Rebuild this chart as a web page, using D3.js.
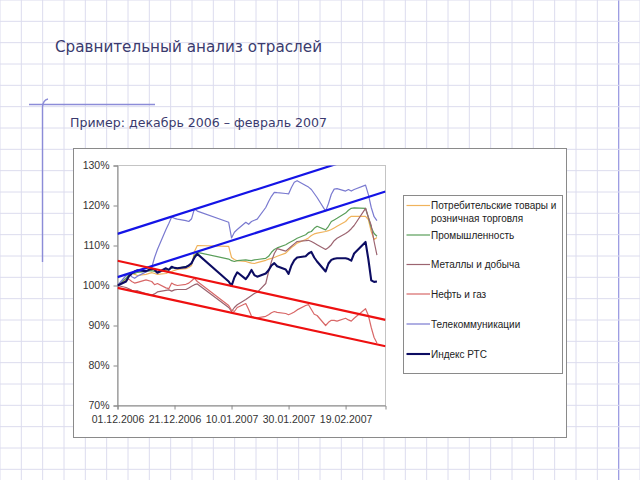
<!DOCTYPE html>
<html>
<head>
<meta charset="utf-8">
<script src="https://cdn.jsdelivr.net/npm/d3@7"></script>
<style>
  html, body { margin: 0; padding: 0; background: #ffffff; }
  svg { display: block; }
</style>
</head>
<body>
<svg id="chart" width="640" height="480"></svg>
<script>
// ---------------- DATA ----------------
const titleText = "Сравнительный анализ отраслей";
const subtitleText = "Пример: декабрь 2006 – февраль 2007";

const dates = ["2006-12-01","2006-12-04","2006-12-05","2006-12-06","2006-12-07","2006-12-08","2006-12-11","2006-12-13","2006-12-14","2006-12-15",
  "2006-12-18","2006-12-19","2006-12-20","2006-12-21","2006-12-22","2006-12-25","2006-12-26","2006-12-27","2006-12-28","2006-12-29",
  "2007-01-09","2007-01-10","2007-01-11","2007-01-12","2007-01-15","2007-01-16","2007-01-17","2007-01-18","2007-01-19",
  "2007-01-22","2007-01-23","2007-01-24","2007-01-25","2007-01-26","2007-01-29","2007-01-30","2007-01-31",
  "2007-02-01","2007-02-02","2007-02-05","2007-02-06","2007-02-07","2007-02-08","2007-02-09","2007-02-12","2007-02-13","2007-02-14","2007-02-15","2007-02-16",
  "2007-02-19","2007-02-20","2007-02-21","2007-02-22","2007-02-26","2007-02-27","2007-02-28","2007-03-01","2007-03-02"];

const consumer = [100.0,101.5,102.5,103.0,102.8,102.5,102.8,103.2,103.0,102.8,103.0,103.3,103.5,103.8,104.0,104.2,104.5,105.0,108.5,110.0,
  109.8,107.0,106.5,106.2,106.0,105.8,105.6,105.5,105.7,106.3,106.6,106.8,107.0,107.3,108.1,108.8,109.5,
  110.0,110.6,111.5,111.9,112.5,112.9,113.1,113.5,113.7,114.0,114.4,114.8,116.0,116.8,117.3,117.3,117.3,116.5,113.5,
  111.5,112.0];

const industry = [100.0,101.8,102.8,103.2,103.0,103.3,103.5,103.7,103.5,103.3,103.8,104.0,104.3,104.5,104.3,104.8,105.0,105.5,107.5,108.3,
  106.6,106.2,106.0,106.2,106.4,106.3,106.2,106.4,106.5,106.8,107.3,108.3,109.0,109.4,110.2,110.6,111.0,
  111.4,111.8,112.7,113.3,113.5,114.3,114.8,113.9,114.8,116.0,116.4,116.8,118.1,118.8,119.3,119.4,119.3,117.0,114.5,
  113.0,112.3];

const metals = [100.0,99.5,99.2,98.8,98.6,98.7,97.9,97.6,97.9,98.4,98.8,98.9,98.6,98.9,99.0,99.0,99.4,99.8,100.2,100.4,
  94.5,93.5,94.5,95.2,96.5,97.0,97.5,98.0,98.3,100.5,103.5,106.0,108.0,109.2,108.6,109.2,109.8,
  110.4,111.0,111.2,111.3,111.0,110.6,110.2,109.0,109.5,110.2,111.2,111.8,113.0,113.5,114.2,115.0,119.3,117.0,115.0,
  111.0,107.6];

const oilGas = [100.0,101.2,101.6,101.0,100.6,100.8,101.4,101.0,100.2,100.5,99.4,99.2,100.6,100.2,100.0,100.3,100.6,101.2,101.8,101.0,
  95.0,93.8,93.5,94.5,95.5,94.0,92.3,92.0,91.9,92.3,92.7,93.2,93.5,93.3,93.0,92.7,93.0,
  93.4,93.9,95.0,95.2,94.0,92.8,92.5,90.0,90.8,91.3,91.3,91.1,91.8,91.4,91.1,91.8,94.2,92.5,89.5,
  87.0,85.6];

const telecom = [100.0,102.5,103.0,102.2,101.8,102.3,103.4,104.5,107.0,109.0,114.0,115.5,117.1,116.8,116.6,116.2,116.0,116.7,119.2,118.6,
  115.8,111.9,113.3,114.0,115.8,115.3,116.0,116.3,116.6,119.5,121.0,122.3,123.3,123.2,123.0,122.9,124.5,
  125.8,126.2,125.0,124.6,124.0,123.0,122.0,118.6,120.5,122.8,124.1,124.2,123.6,124.0,123.6,124.0,125.1,122.7,119.5,
  117.2,116.2];

const rtsIndex = [100.0,101.0,102.3,103.0,103.5,103.8,103.6,104.2,104.0,103.2,104.3,103.9,104.7,104.4,104.3,104.6,105.0,105.6,107.0,107.9,
  101.0,99.9,102.0,103.3,101.6,102.6,103.9,102.6,102.2,103.0,103.8,105.0,105.6,104.8,104.0,102.9,105.0,
  106.3,107.0,107.3,108.0,108.4,107.0,106.0,103.5,105.5,106.4,106.7,106.8,106.8,106.6,106.2,108.0,110.9,106.5,101.3,
  100.9,101.0];

const seriesNames = ["Потребительские товары и|розничная торговля","Промышленность","Металлы и добыча","Нефть и газ","Телекоммуникации","Индекс РТС"];
const seriesValues = [consumer, industry, metals, oilGas, telecom, rtsIndex];
const seriesColors = ["#f0b35c","#5a9e5a","#9c6470","#d86868","#7a7ad0","#0c0c62"];
const seriesWidths = [1.2,1.2,1.2,1.2,1.2,2.1];

// Trend channel lines (start and end of date axis)
const trendDates = ["2006-12-01","2007-03-05"];
const blueUpper = [112.9, 134.3];
const blueLower = [102.1, 123.5];
const redUpper = [106.2, 91.4];
const redLower = [99.4, 84.8];

const xTickDates = ["2006-12-01","2006-12-21","2007-01-10","2007-01-30","2007-02-19"];
const xTickLabels = ["01.12.2006","21.12.2006","10.01.2007","30.01.2007","19.02.2007"];
const yTicks = [70,80,90,100,110,120,130];
const yDomain = [70,130];
const xDomain = ["2006-12-01","2007-03-05"];

// ---------------- DRAW ----------------
const parse = d3.timeParse("%Y-%m-%d");
const svg = d3.select("#chart");
const W = 640, H = 480;

// notebook grid background
const step = 640/30;
const bg = svg.append("g");
bg.append("rect").attr("width", W).attr("height", H).attr("fill", "#ffffff");
for (let i = 0; i <= 30; i++) {
  bg.append("line").attr("x1", i*step).attr("x2", i*step).attr("y1", 0).attr("y2", H)
    .attr("stroke", i === 29 ? "#9c9ce2" : "#dcdcee").attr("stroke-width", i === 29 ? 1.3 : 1);
}
for (let j = 0; j <= 23; j++) {
  bg.append("line").attr("x1", 0).attr("x2", W).attr("y1", j*step).attr("y2", j*step)
    .attr("stroke", "#dcdcee").attr("stroke-width", 1);
}
// margin decoration
bg.append("path").attr("d", "M29,104.5 L155,104.5").attr("stroke", "#8c8cd8").attr("stroke-width", 1.4).attr("fill", "none");
bg.append("path").attr("d", "M48,99 Q43,100 42.5,107 L42.5,262").attr("stroke", "#8c8cd8").attr("stroke-width", 1.4).attr("fill", "none");

// titles
svg.append("text").attr("x", 55).attr("y", 52).text(titleText)
  .attr("font-family", "DejaVu Sans, sans-serif").attr("font-size", 16).attr("fill", "#3a3a6e")
  .attr("textLength", 267).attr("lengthAdjust", "spacingAndGlyphs");
svg.append("text").attr("x", 70).attr("y", 127).text(subtitleText)
  .attr("font-family", "DejaVu Sans, sans-serif").attr("font-size", 12.5).attr("fill", "#3a3a6e")
  .attr("textLength", 257).attr("lengthAdjust", "spacingAndGlyphs");

// chart box
svg.append("rect").attr("x", 73.5).attr("y", 148.5).attr("width", 493).attr("height", 289)
  .attr("fill", "#ffffff").attr("stroke", "#8a8a8a").attr("stroke-width", 1);

const plot = {left: 117.5, right: 385.5, top: 165.5, bottom: 405.5};
const x = d3.scaleTime().domain(xDomain.map(parse)).range([plot.left, plot.right]);
const y = d3.scaleLinear().domain(yDomain).range([plot.bottom, plot.top]);

// plot area border
svg.append("rect").attr("x", plot.left).attr("y", plot.top)
  .attr("width", plot.right - plot.left).attr("height", plot.bottom - plot.top)
  .attr("fill", "none").attr("stroke", "#c4c4c4").attr("stroke-width", 1);

const font = "Liberation Sans, Arial, sans-serif";
const yAxis = svg.append("g").attr("transform", `translate(${plot.left},0)`)
  .call(d3.axisLeft(y).tickValues(yTicks).tickFormat(d => d + "%").tickSize(4).tickPadding(4));
const xAxis = svg.append("g").attr("transform", `translate(0,${plot.bottom})`)
  .call(d3.axisBottom(x).tickValues(xTickDates.map(parse)).tickFormat((d, i) => xTickLabels[i]).tickSize(4).tickPadding(6));
[yAxis, xAxis].forEach(a => {
  a.select(".domain").attr("stroke", "#888888");
  a.selectAll(".tick line").attr("stroke", "#888888");
  a.selectAll("text").attr("font-family", font).attr("font-size", 10.5).attr("fill", "#333333");
});

// clip
svg.append("clipPath").attr("id", "plotclip").append("rect")
  .attr("x", plot.left).attr("y", plot.top).attr("width", plot.right - plot.left).attr("height", plot.bottom - plot.top);

const line = d3.line().x(d => x(d[0])).y(d => y(d[1]));
const parsedDates = dates.map(parse);
const gSeries = svg.append("g").attr("clip-path", "url(#plotclip)");
seriesValues.forEach((vals, i) => {
  gSeries.append("path")
    .datum(vals.map((v, k) => [parsedDates[k], v]))
    .attr("d", line).attr("fill", "none")
    .attr("stroke", seriesColors[i]).attr("stroke-width", seriesWidths[i])
    .attr("stroke-linejoin", "round");
});

// trend lines
const tDates = trendDates.map(parse);
const trends = [[blueUpper, "#1414e6"], [blueLower, "#1414e6"], [redUpper, "#ee1010"], [redLower, "#ee1010"]];
const gTrend = svg.append("g").attr("clip-path", "url(#plotclip)");
trends.forEach(([vals, col]) => {
  gTrend.append("path").datum(vals.map((v, k) => [tDates[k], v]))
    .attr("d", line).attr("fill", "none").attr("stroke", col).attr("stroke-width", 2.2);
});

// legend
const lg = svg.append("g");
lg.append("rect").attr("x", 403.5).attr("y", 195.5).attr("width", 159).attr("height", 178)
  .attr("fill", "#ffffff").attr("stroke", "#8a8a8a").attr("stroke-width", 1);
const rowY = [205.5, 235, 264.5, 294, 324, 354];
seriesNames.forEach((name, i) => {
  const yy = rowY[i];
  lg.append("line").attr("x1", 406.5).attr("x2", 430).attr("y1", yy).attr("y2", yy)
    .attr("stroke", seriesColors[i]).attr("stroke-width", seriesWidths[i]);
  name.split("|").forEach((part, k) => {
    lg.append("text").attr("x", 431).attr("y", yy + k * 12.8).attr("dy", "0.35em")
      .text(part).attr("font-family", font).attr("font-size", 10).attr("fill", "#222222");
  });
});
</script>
</body>
</html>
